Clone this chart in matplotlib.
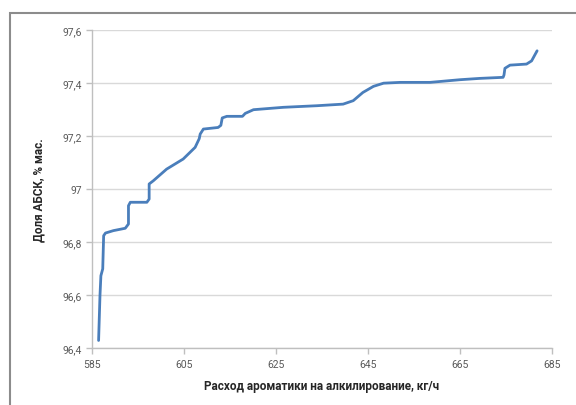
import matplotlib
matplotlib.use("Agg")
import matplotlib.pyplot as plt
from matplotlib.patches import Rectangle

# aromatics feed rate, kg/h  vs  LAB share, % wt
feed_rate = [586.4, 586.7, 586.9, 587.3, 587.5, 587.9, 589.6, 592.2, 592.9, 592.9,
             593.3, 596.9, 597.4, 597.4, 598.3, 601.2, 604.8, 607.4, 608.3, 608.5,
             609.2, 612.4, 613.0, 613.3, 614.3, 617.7, 618.3, 620.1, 626.6, 633.9,
             639.6, 641.8, 643.9, 646.2, 648.4, 652.0, 658.5, 665.0, 669.3, 674.4,
             674.6, 674.8, 675.9, 679.5, 680.6, 681.8]
lab_share = [96.429, 96.598, 96.673, 96.699, 96.824, 96.834, 96.843, 96.852, 96.868, 96.937,
             96.950, 96.950, 96.962, 97.019, 97.031, 97.075, 97.113, 97.157, 97.190, 97.207,
             97.226, 97.232, 97.240, 97.268, 97.274, 97.274, 97.285, 97.299, 97.308, 97.314,
             97.320, 97.333, 97.364, 97.387, 97.399, 97.402, 97.402, 97.412, 97.417, 97.421,
             97.430, 97.455, 97.467, 97.471, 97.483, 97.521]

x_ticks = [585, 605, 625, 645, 665, 685]
y_ticks = [96.4, 96.6, 96.8, 97.0, 97.2, 97.4, 97.6]
y_tick_labels = ["96,4", "96,6", "96,8", "97", "97,2", "97,4", "97,6"]

plt.rcParams["font.family"] = ["Roboto", "DejaVu Sans"]

fig = plt.figure(figsize=(5.76, 4.06), dpi=100)
ax = fig.add_axes([0.16, 0.14, 0.798, 0.784])

ax.plot(feed_rate, lab_share, color="#4a7ebb", lw=2.0, solid_joinstyle="round",
        solid_capstyle="round", zorder=3)

ax.set_xlim(585, 685)
ax.set_ylim(96.4, 97.6)
ax.set_xticks(x_ticks)
ax.set_yticks(y_ticks)
ax.set_yticklabels(y_tick_labels)
ax.grid(axis="y", color="#d9d9d9", lw=1.0)
ax.set_axisbelow(True)

for side in ("top", "right"):
    ax.spines[side].set_visible(False)
for side in ("left", "bottom"):
    ax.spines[side].set_color("#bfbfbf")
    ax.spines[side].set_linewidth(1.0)
ax.tick_params(axis="both", colors="#bfbfbf", length=4, width=1.0,
               labelcolor="#595959", labelsize=7.5)
ax.tick_params(axis="x", pad=4)

ax.set_xlabel("Расход ароматики на алкилирование, кг/ч", fontsize=8.5,
              fontweight="bold", color="#262626", labelpad=7)
ax.set_ylabel("Доля АБСК, % мас.", fontsize=8.5, fontweight="bold",
              color="#262626", labelpad=12)

# outer chart frame (cut by the image edge at right and bottom)
fig.patches.append(Rectangle((10 / 576, -0.05), 1.2, 1.05 - 14 / 406,
                             transform=fig.transFigure, fill=False,
                             edgecolor="#8c8c8c", lw=1.5, clip_on=False))

fig.savefig("out.png", dpi=100)
